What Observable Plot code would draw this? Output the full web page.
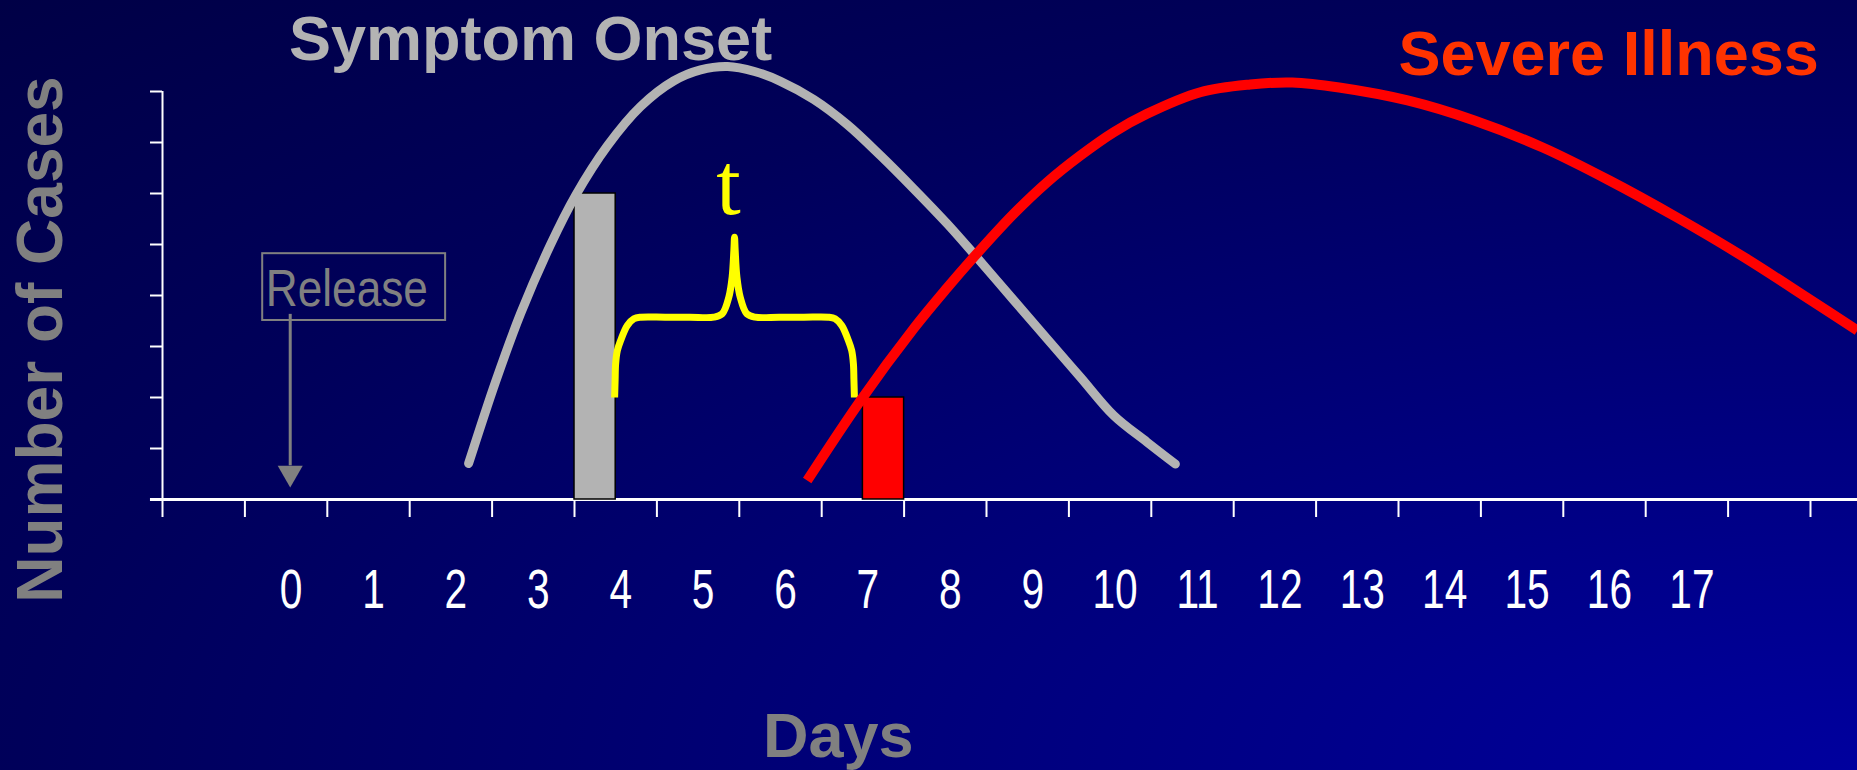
<!DOCTYPE html>
<html>
<head>
<meta charset="utf-8">
<script src="https://cdn.jsdelivr.net/npm/d3@7"></script>
<script src="https://cdn.jsdelivr.net/npm/@observablehq/plot@0.6"></script>
<style>
  html, body { margin: 0; padding: 0; width: 1857px; height: 770px; overflow: hidden; }
  body { background: radial-gradient(ellipse farthest-corner at 100% 100%, #00009e 0%, #00005a 70%, #000046 100%); }
  #chart svg { display: block; }
</style>
</head>
<body>
<div id="chart"></div>
<script>
// ---- data ----
const dayLabels = [0, 1, 2, 3, 4, 5, 6, 7, 8, 9, 10, 11, 12, 13, 14, 15, 16, 17];
const xTickPositions = d3.range(-1.5, 19, 1); // tick marks between day labels
const yTickValues = [0, 1, 2, 3, 4, 5, 6, 7, 8];

// Symptom onset curve (day, number of cases)
const onsetDays  = [2.215, 2.543, 2.846, 3.210, 3.513, 3.902, 4.302, 4.702, 5.030, 5.358, 5.685, 6.000, 6.404, 6.809, 7.213, 7.617, 8.023, 8.345, 8.831, 9.236, 9.640, 10.044, 10.449, 10.792];
const onsetCases = [0.706, 2.314, 3.647, 5.000, 5.961, 6.941, 7.706, 8.206, 8.424, 8.490, 8.392, 8.200, 7.843, 7.353, 6.745, 6.092, 5.406, 4.818, 3.908, 3.149, 2.398, 1.647, 1.124, 0.696];

// Severe illness curve (day, number of cases)
const severeDays  = [6.324, 6.971, 7.617, 8.023, 8.345, 8.831, 9.236, 9.640, 10.044, 10.449, 11.095, 11.70, 12.21, 12.78, 13.61, 14.42, 15.25, 16.06, 16.88, 17.70, 18.51, 19.07];
const severeCases = [0.373, 1.941, 3.353, 4.151, 4.751, 5.602, 6.222, 6.745, 7.202, 7.563, 7.986, 8.137, 8.176, 8.078, 7.824, 7.431, 6.902, 6.255, 5.529, 4.745, 3.902, 3.314];

// Bars: first symptom onset case and first severe case
const barLabels = ["onset", "severe"];
const barStart  = [3.5, 7.0];
const barEnd    = [4.0, 7.5];
const barCases  = [6, 2];

// Brace spanning the interval t (left half; right half mirrors it)
const braceHalfDays  = [3.987, 3.993, 3.999, 4.02, 4.06, 4.141, 4.221, 4.302, 4.6, 4.9, 5.191, 5.293, 5.373, 5.413, 5.434, 5.442];
const braceHalfLevel = [2.0, 2.35, 2.657, 2.92, 3.118, 3.412, 3.543, 3.575, 3.575, 3.575, 3.575, 3.641, 3.967, 4.359, 4.882, 5.143];

// Release marker
const releaseDay = [0.05];

// ---- build tables ----
const onset = onsetDays.map((d, i) => ({day: d, cases: onsetCases[i]}));
const severe = severeDays.map((d, i) => ({day: d, cases: severeCases[i]}));
const bars = barLabels.map((k, i) => ({key: k, x1: barStart[i], x2: barEnd[i], y: barCases[i]}));
const braceApex = braceHalfDays[braceHalfDays.length - 1];
const braceLeft = braceHalfDays.map((d, i) => ({day: d, v: braceHalfLevel[i]}));
const braceRight = braceLeft.slice(0, -1).reverse().map(p => ({day: 2 * braceApex - p.day, v: p.v}));
const brace = braceLeft.concat(braceRight);

const GRAY = "#808080";
const LIGHT = "#b3b3b3";
const SANS = "'Liberation Sans', Arial, Helvetica, sans-serif";

const chart = Plot.plot({
  width: 1857,
  height: 770,
  marginLeft: 162,
  marginRight: 47,
  marginTop: 91,
  marginBottom: 271,
  style: {background: "transparent", overflow: "visible"},
  x: {domain: [-1.5, 18.5]},
  y: {domain: [0, 8]},
  marks: [
    // axes
    Plot.axisY({ticks: yTickValues, tickSize: 12, tickFormat: () => "", stroke: "white", strokeWidth: 2, label: null}),
    Plot.ruleX([-1.5], {y1: 0, y2: 8, stroke: "white", strokeWidth: 2}),
    Plot.axisX({ticks: xTickPositions, tickSize: 18, tickFormat: () => "", stroke: "white", strokeWidth: 2, label: null}),
    Plot.axisX({ticks: dayLabels, tickSize: 0, tickPadding: 69, tickFormat: d => String(d), dx: 5,
                fill: "white", fontSize: 55, fontFamily: SANS, label: null}),
    Plot.ruleY([0], {x1: -1.646, x2: 19.3, stroke: "white", strokeWidth: 3}),

    // release annotation
    Plot.rect([0], {x1: -0.284, x2: 1.936, y1: 3.51, y2: 4.82, fill: "none", stroke: GRAY, strokeWidth: 2}),
    Plot.text(["Release"], {x: -0.247, y: 3.80, text: d => d, lineAnchor: "bottom", textAnchor: "start", fill: GRAY,
                fontSize: 52, fontFamily: SANS}),
    Plot.ruleX(releaseDay, {x: d => d, y1: 3.63, y2: 0.66, stroke: GRAY, strokeWidth: 3}),
    Plot.dot(releaseDay, {x: d => d, y: 0.52, symbol: "triangle", r: 9.3, rotate: 180, fill: GRAY, stroke: "none"}),

    // bars
    Plot.rectY(bars, {x1: "x1", x2: "x2", y1: 0, y2: "y",
                      fill: d => d.key === "onset" ? LIGHT : "#ff0000", stroke: "black", strokeWidth: 1.5}),

    // brace and t
    Plot.line(brace, {x: "day", y: "v", curve: "catmull-rom", stroke: "#ffff00", strokeWidth: 7,
                      strokeLinejoin: "round", strokeLinecap: "butt"}),
    Plot.text(["t"], {x: 5.37, y: 5.6, text: d => d, lineAnchor: "bottom", fill: "#ffff00",
                      fontSize: 88, fontFamily: "'Liberation Serif', 'Times New Roman', serif"}),

    // curves
    Plot.line(onset, {x: "day", y: "cases", curve: "catmull-rom", stroke: LIGHT, strokeWidth: 9, strokeLinecap: "round"}),
    Plot.line(severe, {x: "day", y: "cases", curve: "catmull-rom", stroke: "#ff0000", strokeWidth: 10, strokeLinecap: "butt"}),

    // titles
    Plot.text(["Symptom Onset"], {x: 2.967, y: 8.627, text: d => d, lineAnchor: "bottom", fill: LIGHT,
                fontSize: 63, fontWeight: "bold", fontFamily: SANS}),
    Plot.text(["Severe Illness"], {x: 16.05, y: 8.314, text: d => d, lineAnchor: "bottom", fill: "#ff3300",
                fontSize: 63, fontWeight: "bold", fontFamily: SANS}),
    Plot.text(["Days"], {x: 6.70, y: -5.04, text: d => d, lineAnchor: "bottom", fill: GRAY,
                fontSize: 63, fontWeight: "bold", fontFamily: SANS}),
    Plot.text(["Number of Cases"], {x: -2.717, y: 3.137, text: d => d, rotate: -90, lineAnchor: "bottom",
                fill: GRAY, fontSize: 64, fontWeight: "bold", fontFamily: SANS})
  ]
});

document.getElementById("chart").appendChild(chart);

// Narrow the condensed-looking labels (tick digits and "Release") horizontally,
// scaling each about its own anchor (centre for digits, left edge for "Release").
function condense(nodes, s, anchor) {
  nodes.forEach(node => {
    const b = node.getBBox();
    const cx = anchor === "start" ? b.x : b.x + b.width / 2;
    const tr = node.getAttribute("transform") || "";
    node.setAttribute("transform", `${tr} translate(${cx},0) scale(${s},1) translate(${-cx},0)`);
  });
}
const allText = Array.from(chart.querySelectorAll("text"));
condense(allText.filter(t => /^\d+$/.test(t.textContent)), 0.74, "middle");
condense(allText.filter(t => t.textContent === "Release"), 0.85, "start");
</script>
</body>
</html>
